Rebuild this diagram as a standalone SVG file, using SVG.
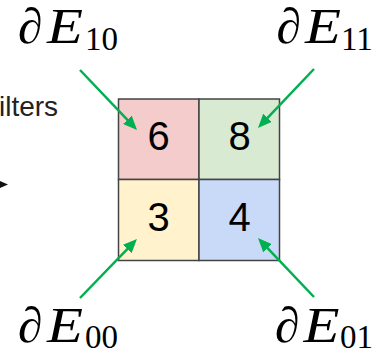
<svg xmlns="http://www.w3.org/2000/svg" width="374" height="355" viewBox="0 0 374 355">
<style>
.lbl{font-family:"Liberation Serif","DejaVu Serif",serif;fill:#000}
.it{font-style:italic;font-size:50px}
.sub{font-size:33px}
.num{font-family:"Liberation Sans",Arial,sans-serif;font-size:40px;fill:#000;text-anchor:middle}
.cell{stroke:#434343;stroke-width:1.5}
.arr{stroke:#00b050;stroke-width:2.5;fill:none;marker-end:url(#ah)}
</style>
<defs>
<marker id="ah" viewBox="0 0 14 12" refX="8" refY="6" markerWidth="14" markerHeight="12" markerUnits="userSpaceOnUse" orient="auto">
<path d="M0,0 L14,6 L0,12 Z" fill="#00b050"/>
</marker>
</defs>
<rect width="374" height="355" fill="#fff"/>
<g id="filters-text">
<text x="-1" y="116" font-family="Liberation Sans,Arial,sans-serif" font-size="28" fill="#222">ilters</text>
<polygon points="0,181 8,184.5 0,188" fill="#111"/>
</g>
<g id="cell00"><rect class="cell" x="118.5" y="99" width="80.5" height="80.5" fill="#f4cccc"/><text class="num" x="158.5" y="150">6</text></g>
<g id="cell01"><rect class="cell" x="199" y="99" width="80.5" height="80.5" fill="#d9ead3"/><text class="num" x="239.5" y="150">8</text></g>
<g id="cell10"><rect class="cell" x="118.5" y="179.5" width="80.5" height="81" fill="#fff2cc"/><text class="num" x="158.5" y="231">3</text></g>
<g id="cell11"><rect class="cell" x="199" y="179.5" width="80.5" height="81" fill="#c9daf8"/><text class="num" x="239.5" y="231">4</text></g>
<g id="label-E10" class="lbl"><text class="it" x="18" y="43">∂</text><text class="it" x="47" y="43" textLength="36" lengthAdjust="spacingAndGlyphs">E</text><text class="sub" x="85" y="49.5">10</text></g>
<g id="label-E11" class="lbl"><text class="it" x="276.5" y="43">∂</text><text class="it" x="305" y="43" textLength="36" lengthAdjust="spacingAndGlyphs">E</text><text class="sub" x="341" y="49.5">11</text></g>
<g id="label-E00" class="lbl"><text class="it" x="18" y="341.5">∂</text><text class="it" x="47" y="341.5" textLength="36" lengthAdjust="spacingAndGlyphs">E</text><text class="sub" x="85" y="348">00</text></g>
<g id="label-E01" class="lbl"><text class="it" x="275" y="341.5">∂</text><text class="it" x="303.5" y="341.5" textLength="36" lengthAdjust="spacingAndGlyphs">E</text><text class="sub" x="340" y="348">01</text></g>
<g id="connectors">
<line class="arr" x1="80" y1="70" x2="132.9" y2="125.6"/>
<line class="arr" x1="314" y1="69" x2="262.1" y2="123.6"/>
<line class="arr" x1="80" y1="298" x2="132.8" y2="243.3"/>
<line class="arr" x1="314" y1="297" x2="262.1" y2="242.4"/>
</g>
</svg>
